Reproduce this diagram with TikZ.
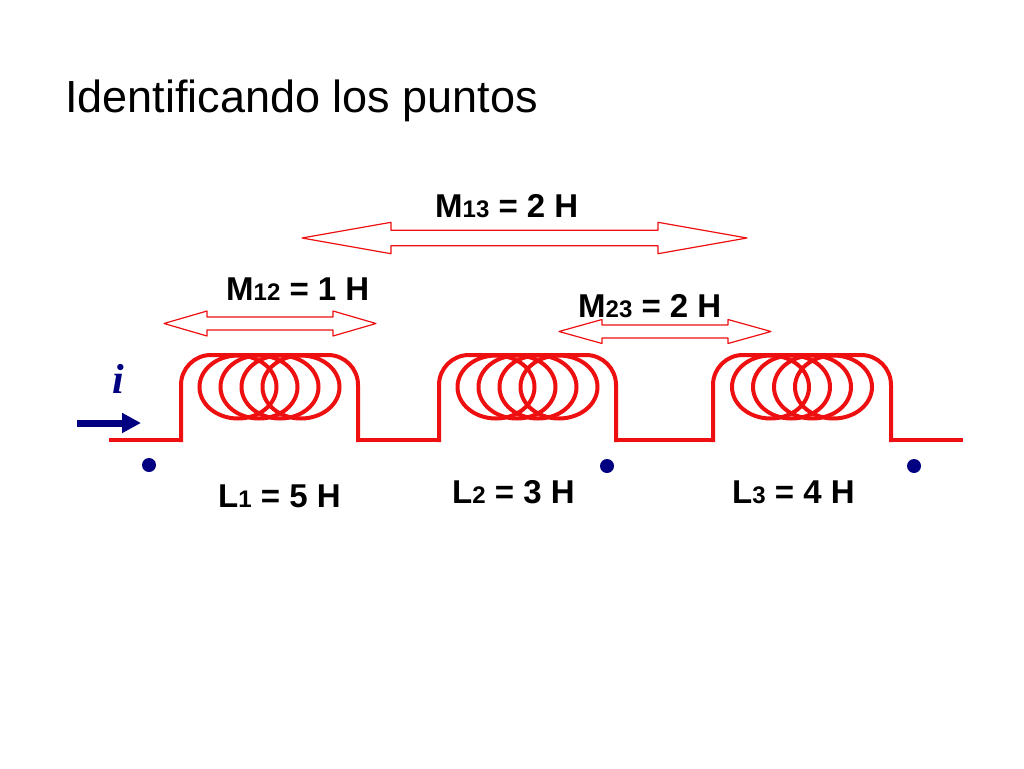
\documentclass[tikz,border=0pt]{standalone}
\usepackage{fontspec}
\setmainfont{Liberation Sans}
\newfontfamily\serifface{Liberation Serif}
\usetikzlibrary{arrows.meta}
\definecolor{coilred}{RGB}{238,16,16}
\definecolor{dotblue}{RGB}{0,0,128}
\newcommand{\sub}[1]{{\fontsize{24}{24}\selectfont #1}}
% hollow double arrow: left tip, right tip, y, head length, half head, half shaft
\newcommand{\mutualarrow}[6]{%
  \draw[mutual] (#1,#3) -- (#1+#4,#3-#5) -- (#1+#4,#3-#6) -- (#2-#4,#3-#6)
    -- (#2-#4,#3-#5) -- (#2,#3) -- (#2-#4,#3+#5) -- (#2-#4,#3+#6)
    -- (#1+#4,#3+#6) -- (#1+#4,#3+#5) -- cycle;}
\begin{document}
\begin{tikzpicture}[x=1pt,y=-1pt,
  wire/.style={coilred,line width=4pt,line cap=rect},
  turn/.style={coilred,line width=4pt},
  mutual/.style={coilred,line width=1.2pt,line join=round,fill=white},
  value/.style={font=\bfseries\fontsize{33}{33}\selectfont,anchor=base west,inner sep=0pt},
  dot/.style={circle,fill=dotblue,minimum size=14pt,inner sep=0pt},
  current/.style={dotblue,line width=7pt,-{Triangle[length=19pt,width=19pt]}}]

\useasboundingbox (0,0) rectangle (1024,768);

\node[anchor=base west,inner sep=0pt,font=\fontsize{45}{45}\selectfont] (title) at (65,112) {Identificando los puntos};

% wire and coils
\draw[wire] (111,440) -- (181,440);
\draw[wire] (358,440) -- (439,440);
\draw[wire] (616,440) -- (713,440);
\draw[wire] (891,440) -- (961,440);
\foreach \a/\b in {181/358,439/616,713/891}
  \draw[wire,rounded corners=30pt] (\a,440) -- (\a,355) -- (\b,355) -- (\b,440);
\foreach \c in {269.5,527.5,802}
  \foreach \d in {-31.5,-10.5,10.5,31.5}
    \draw[turn] (\c+\d,387) ellipse [x radius=38.5pt,y radius=31.5pt];

\node[dot] (dotone) at (149,465) {};
\node[dot] (dottwo) at (607,466) {};
\node[dot] (dotthree) at (914,466) {};

\coordinate (itail) at (77,423);
\coordinate (ihead) at (141,423);
\draw[current] (itail) -- (ihead);
\node[anchor=base,inner sep=0pt,text=dotblue,font=\serifface\bfseries\itshape\fontsize{42}{42}\selectfont] (ilabel) at (118,393) {i};

\mutualarrow{302}{747}{238}{89}{15.7}{7.7}
\mutualarrow{164}{376}{323.5}{43}{12.5}{6.5}
\mutualarrow{559}{771}{331.5}{43}{12}{6.5}

\node[value] (mot) at (435,217) {M\sub{13} = 2 H};
\node[value] (mod) at (226,300) {M\sub{12} = 1 H};
\node[value] (mdt) at (578,317) {M\sub{23} = 2 H};
\node[value] (lone) at (218,507) {L\sub{1} = 5 H};
\node[value] (ltwo) at (452,503) {L\sub{2} = 3 H};
\node[value] (lthree) at (732,503) {L\sub{3} = 4 H};

\end{tikzpicture}
\end{document}
